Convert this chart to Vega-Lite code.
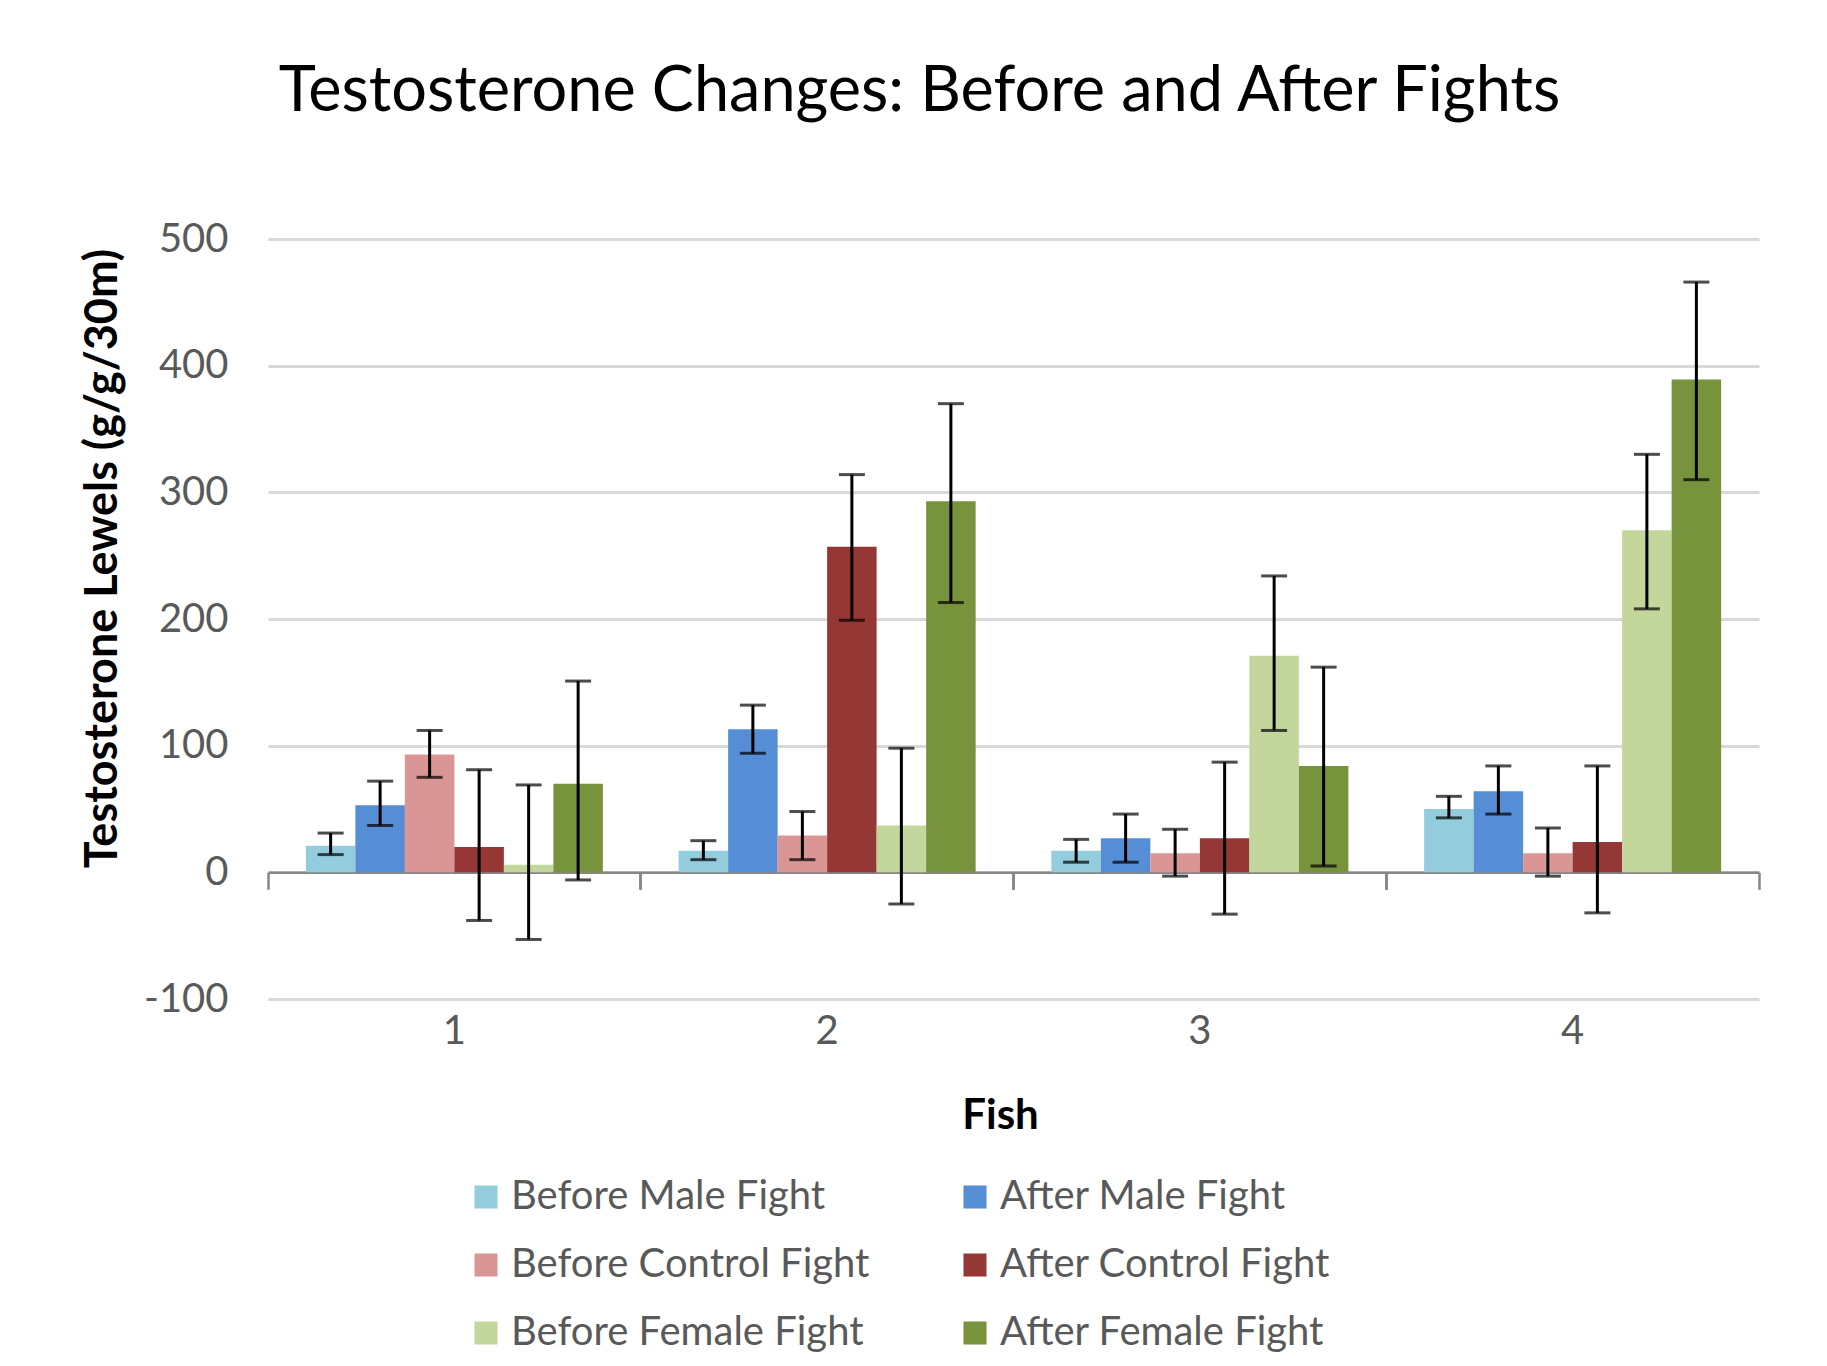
{
  "$schema": "https://vega.github.io/schema/vega-lite/v6.json",
  "autosize": "none",
  "width": 1491,
  "height": 760,
  "padding": {"left": 268, "top": 239, "right": 68, "bottom": 367},
  "background": "white",
  "title": {
    "text": "Testosterone Changes: Before and After Fights",
    "font": "Lato",
    "fontSize": 63,
    "fontWeight": "normal",
    "color": "#000000",
    "anchor": "middle",
    "frame": "group",
    "dx": -94,
    "offset": 95
  },
  "data": {
    "values": [
      {"fish": "1", "group": "Before Male Fight", "value": 21, "lo": 14, "hi": 31},
      {"fish": "1", "group": "After Male Fight", "value": 53, "lo": 37, "hi": 72},
      {"fish": "1", "group": "Before Control Fight", "value": 93, "lo": 75, "hi": 112},
      {"fish": "1", "group": "After Control Fight", "value": 20, "lo": -38, "hi": 81},
      {"fish": "1", "group": "Before Female Fight", "value": 6, "lo": -53, "hi": 69},
      {"fish": "1", "group": "After Female Fight", "value": 70, "lo": -6, "hi": 151},
      {"fish": "2", "group": "Before Male Fight", "value": 17, "lo": 10, "hi": 25},
      {"fish": "2", "group": "After Male Fight", "value": 113, "lo": 94, "hi": 132},
      {"fish": "2", "group": "Before Control Fight", "value": 29, "lo": 10, "hi": 48},
      {"fish": "2", "group": "After Control Fight", "value": 257, "lo": 199, "hi": 314},
      {"fish": "2", "group": "Before Female Fight", "value": 37, "lo": -25, "hi": 98},
      {"fish": "2", "group": "After Female Fight", "value": 293, "lo": 213, "hi": 370},
      {"fish": "3", "group": "Before Male Fight", "value": 17, "lo": 8, "hi": 26},
      {"fish": "3", "group": "After Male Fight", "value": 27, "lo": 8, "hi": 46},
      {"fish": "3", "group": "Before Control Fight", "value": 15, "lo": -3, "hi": 34},
      {"fish": "3", "group": "After Control Fight", "value": 27, "lo": -33, "hi": 87},
      {"fish": "3", "group": "Before Female Fight", "value": 171, "lo": 112, "hi": 234},
      {"fish": "3", "group": "After Female Fight", "value": 84, "lo": 5, "hi": 162},
      {"fish": "4", "group": "Before Male Fight", "value": 50, "lo": 43, "hi": 60},
      {"fish": "4", "group": "After Male Fight", "value": 64, "lo": 46, "hi": 84},
      {"fish": "4", "group": "Before Control Fight", "value": 15, "lo": -3, "hi": 35},
      {"fish": "4", "group": "After Control Fight", "value": 24, "lo": -32, "hi": 84},
      {"fish": "4", "group": "Before Female Fight", "value": 270, "lo": 208, "hi": 330},
      {"fish": "4", "group": "After Female Fight", "value": 389, "lo": 310, "hi": 466}
    ]
  },
  "layer": [
    {
      "mark": {"type": "bar"},
      "encoding": {
        "x": {
          "field": "fish", "type": "nominal",
          "scale": {"paddingInner": 0, "paddingOuter": 0},
          "axis": {
            "title": "Fish", "orient": "bottom", "domain": false, "ticks": false, "labelAngle": 0,
            "labelFont": "Lato", "labelFontSize": 40, "labelColor": "#595959", "labelPadding": 12,
            "titleFont": "Lato", "titleFontSize": 42, "titleFontWeight": "bold", "titleColor": "#000000",
            "titleX": 732, "titleY": 116, "titleBaseline": "middle", "titleAlign": "center"
          }
        },
        "xOffset": {
          "field": "group", "type": "nominal",
          "sort": ["Before Male Fight", "After Male Fight", "Before Control Fight", "After Control Fight", "Before Female Fight", "After Female Fight"],
          "scale": {"paddingInner": 0, "paddingOuter": 0.765}
        },
        "y": {
          "field": "value", "type": "quantitative",
          "title": "Testosterone Lewels (g/g/30m)",
          "scale": {"domain": [-100, 500], "nice": false, "zero": false},
          "axis": {
            "values": [-100, 0, 100, 200, 300, 400, 500],
            "labelExpr": "replace(datum.label, '−', '-')",
            "domain": false, "ticks": false, "grid": true, "gridColor": "#D9D9D9", "gridWidth": 3,
            "labelFont": "Lato", "labelFontSize": 40, "labelColor": "#595959", "labelPadding": 40,
            "titleFont": "Lato", "titleFontSize": 45, "titleFontWeight": "bold", "titleColor": "#000000",
            "titleX": -166, "titleY": 319, "titleAngle": -90, "titleBaseline": "middle", "titleAlign": "center"
          }
        },
        "color": {
          "field": "group", "type": "nominal",
          "scale": {
            "domain": ["Before Male Fight", "After Male Fight", "Before Control Fight", "After Control Fight", "Before Female Fight", "After Female Fight"],
            "range": ["#93CDDD", "#558ED5", "#D99694", "#953735", "#C3D69B", "#77933C"]
          },
          "legend": {
            "title": null, "orient": "none", "legendX": 198, "legendY": 938, "columns": 2, "direction": "horizontal",
            "symbolType": "square", "symbolSize": 530, "symbolStrokeWidth": 0,
            "labelFont": "Lato", "labelFontSize": 40, "labelColor": "#595959", "labelOffset": 5,
            "labelLimit": 600, "rowPadding": 28, "columnPadding": 85
          }
        }
      }
    },
    {
      "mark": {"type": "rule", "color": "#000000", "strokeWidth": 3},
      "encoding": {
        "x": {
          "field": "fish", "type": "nominal",
          "axis": {
            "orient": "bottom", "offset": -126.7, "title": null, "labels": false,
            "domain": true, "domainColor": "#868686", "domainWidth": 2.5,
            "ticks": true, "tickColor": "#868686", "tickWidth": 2.5, "tickSize": 17, "bandPosition": 0, "grid": false
          }
        },
        "xOffset": {"field": "group", "type": "nominal", "sort": ["Before Male Fight", "After Male Fight", "Before Control Fight", "After Control Fight", "Before Female Fight", "After Female Fight"]},
        "y": {"field": "lo", "type": "quantitative", "title": "Testosterone Lewels (g/g/30m)"},
        "y2": {"field": "hi"}
      }
    },
    {
      "mark": {"type": "tick", "color": "#000000", "thickness": 3, "size": 26},
      "encoding": {
        "x": {
          "field": "fish", "type": "nominal",
          "axis": {
            "orient": "bottom", "offset": -126.7, "title": null, "labels": false, "domain": false,
            "ticks": true, "tickColor": "#868686", "tickWidth": 2.5, "tickSize": 17, "bandPosition": 1, "grid": false
          }
        },
        "xOffset": {"field": "group", "type": "nominal", "sort": ["Before Male Fight", "After Male Fight", "Before Control Fight", "After Control Fight", "Before Female Fight", "After Female Fight"]},
        "y": {"field": "hi", "type": "quantitative", "title": "Testosterone Lewels (g/g/30m)"}
      }
    },
    {
      "mark": {"type": "tick", "color": "#000000", "thickness": 3, "size": 26},
      "encoding": {
        "x": {"field": "fish", "type": "nominal", "axis": null},
        "xOffset": {"field": "group", "type": "nominal", "sort": ["Before Male Fight", "After Male Fight", "Before Control Fight", "After Control Fight", "Before Female Fight", "After Female Fight"]},
        "y": {"field": "lo", "type": "quantitative", "title": "Testosterone Lewels (g/g/30m)"}
      }
    }
  ],
  "resolve": {"axis": {"x": "independent"}},
  "config": {
    "view": {"stroke": null},
    "axis": {"labelFont": "Lato", "titleFont": "Lato"},
    "legend": {"labelFont": "Lato"}
  }
}
